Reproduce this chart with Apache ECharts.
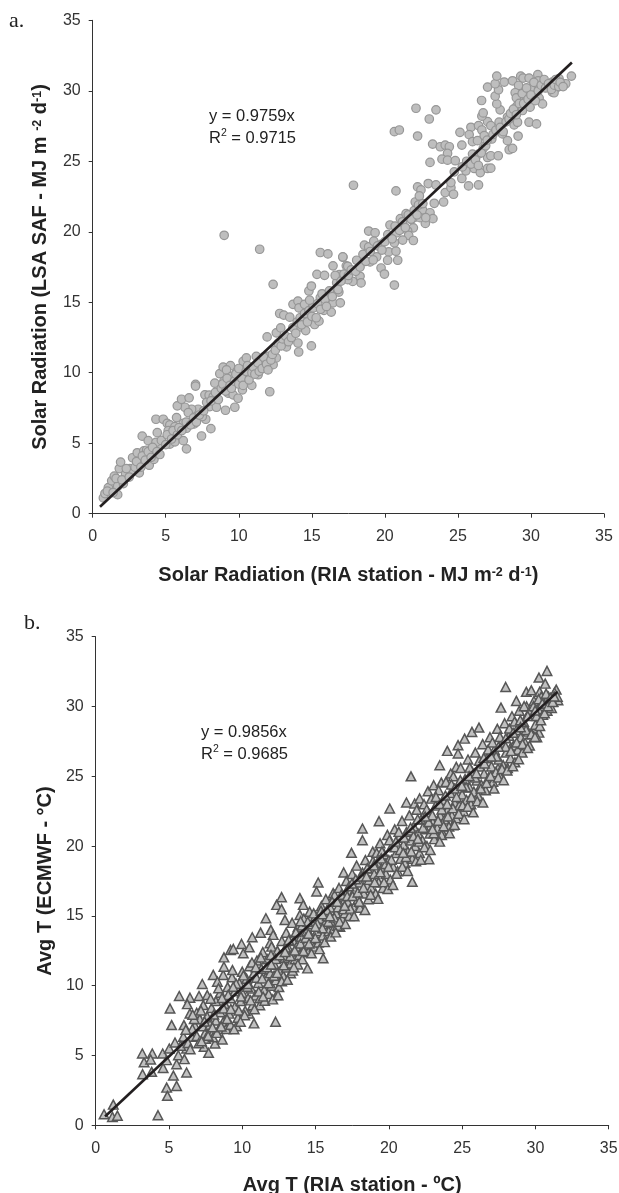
<!DOCTYPE html>
<html><head><meta charset="utf-8">
<style>html,body{margin:0;padding:0;background:#fff}#c{width:619px;height:1193px}</style>
<script src="https://cdn.jsdelivr.net/npm/echarts@6/dist/echarts.min.js"></script>
</head><body><div id="c"></div>
<script>
const tickValues = [0,5,10,15,20,25,30,35];
const solarPoints = [[.73,1.12],[.84,1.43],[1.07,1.85],[1.3,2.33],[1.48,2.66],[1.71,1.35],[1.71,1.95],[2.1,2.14],[1.82,3.2],[1.91,3.66],[2.25,2.8],[2.55,3.2],[2.73,2.97],[3.19,2.9],[2.73,3.97],[3.05,4.32],[3.12,3.56],[3.39,3.68],[3.5,4.46],[3.69,4.5],[3.87,3.44],[3.87,4.15],[4.19,3.85],[4.33,4.27],[4.56,4.75],[3.39,5.5],[3.8,5.18],[4.33,5.06],[4.42,5.75],[4.33,6.7],[4.83,6.7],[5.1,6.41],[5.28,6.3],[5.17,5.89],[5.74,6.82],[5.63,6.18],[5.28,4.94],[5.63,5.1],[6.2,5.18],[6.42,4.6],[6.2,6.41],[6.42,6.06],[6.95,6.37],[7.45,5.51],[8.09,6.03],[7.74,6.7],[7.5,6.89],[7.22,7.41],[6.77,7.41],[6.31,7.55],[5.79,7.65],[6.08,8.12],[6.6,8.22],[6.54,7.17],[7.04,9.17],[7.04,9.05],[7.68,8.43],[7.97,8.41],[8.25,8.31],[8.02,7.6],[8.47,7.55],[9.09,7.34],[9.73,7.55],[8.36,9.26],[8.7,9.93],[8.93,10.4],[9.43,10.5],[9.16,10.2],[9.5,9.74],[9.84,10.02],[8.98,9.38],[9.27,8.55],[9.61,8.43],[9.95,8.19],[10.25,8.79],[10.89,9.1],[10.41,9.62],[10.3,10.8],[10.52,11.05],[11.2,11.16],[11.55,10.8],[11.32,9.86],[12.12,8.65],[12.35,10.57],[12,11.16],[12.57,11.05],[11.94,12.54],[12.57,12.83],[12.87,13.18],[12.8,14.2],[13.08,14.09],[13.49,13.94],[13.26,11.83],[14.05,12.11],[14.1,11.47],[14.97,11.9],[13.71,14.85],[14.05,15.08],[14.12,14.6],[14.5,14.85],[14.85,15.15],[14.8,15.8],[14.97,16.15],[14.24,13.25],[14.58,12.99],[14.85,13.73],[15.19,13.42],[15.49,13.66],[15.58,15.32],[15.83,14.42],[16.33,14.3],[16.45,14.96],[16.95,14.96],[16.85,15.72],[16.7,16.39],[15.35,16.98],[15.87,16.91],[16.45,17.58],[17.36,17.58],[15.58,18.53],[16.1,18.43],[17.13,18.19],[12.35,16.27],[11.43,18.76],[9,19.75],
[17.85,23.3],[20.76,22.9],[22.13,28.76],[23.5,28.65],[23.04,28],[20.65,27.1],[20.99,27.22],[22.24,26.79],[23.27,26.22],[23.79,26.03],[24.13,26.15],[24.41,26.03],[24.29,25.56],[25.27,26.15],[23.09,24.92],[23.91,25.15],[24.29,25.08],[24.82,25.04],[22.24,23.18],[22.47,22.97],[22.97,23.42],[23.5,23.32],[23.38,22.02],[24.02,22.11],[24.13,22.78],[24.52,23.13],[24.52,23.49],[24.7,22.66],[24.75,24.25],[25.27,23.78],[25.55,24.32],[26.12,24.49],[26.53,24.2],[25.73,23.25],[26.41,23.32],[27.03,24.49],[27.25,24.51],[27.03,25.27],[27.25,25.39],[27.76,25.39],[26,25.51],[26.41,25.51],[26.73,25.91],[25.14,27.05],[25.89,27.41],[25.77,26.89],[26,26.39],[26.34,26.46],[26.41,27.53],[26.64,27.22],[26.8,26.82],[27.32,26.58],[27.03,27.81],[27.25,27.53],[26.64,28.2],[26.73,28.43],[26.62,29.31],[27.82,27.77],[28.05,26.94],[28.39,26.46],[28.51,25.82],[28.74,25.91],[29.12,26.79],[29.87,27.77],[30.38,27.65],[28.85,27.58],[29.08,27.77],[28.39,28.12],[27.89,28.65],[27.66,29.07],[27.55,29.62],[27.78,30.07],[27.03,30.26],[27.55,30.5],[27.66,31.04],[28.17,30.62],[28.74,30.71],[29.3,31.04],[29.46,30.9],[29.87,30.9],[30.47,31.14],[30.49,30.71],[29.15,30.38],[28.92,29.86],[29.19,29.48],[29.03,28.91],[29.42,28.6],[29.94,28.84],[30.33,29.79],[30.56,29.48],[30.79,29.07],[30.1,30.26],[30.56,30.26],[31.47,29.9],[31.81,30.26],[32.15,30.5],[32.38,30.5],[31.92,30.86],[32.77,31.04],[31.47,30.62],[31.58,29.86],[31.13,30.38],[29.65,29.67],
[21.06,20.93],[21.45,21.28],[22.08,22.11],[22.36,22.54],[22.58,21.54],[23.09,21.35],[23.29,20.93],[22.77,20.59],[21.95,20.28],[21.56,20.05],[21.63,19.74],[21.95,19.38],[21.22,19.41],[20.35,20.48],[20.81,19.93],[18.89,20.05],[19.33,19.93],[18.6,19.05],[18.89,18.93],[19.24,19.33],[19.74,19.1],[20.26,18.57],[20.76,18.62],[20.65,19.22],[20.88,17.98],[20.19,17.98],[19.44,18.22],[18.99,17.86],[18.07,17.98],[17.12,18.22],[17.46,17.55],[19.74,17.43],[19.97,17],[20.65,16.22],[18.3,16.84],[18.37,16.37],[17.8,16.48],[17.46,16.6],[16.89,16.96],[21.79,20.88],[22,21],[22.4,21],
[1,1.6],[1.4,1.5],[1.6,2.5],[2,2.4],[2.3,3.2],[2.5,2.6],[2.9,3.3],[3,3.7],[3.3,3.3],[3.4,4.1],[3.6,3.8],[3.8,4.4],[4,4],[4.1,4.7],[4.4,4.4],[4.6,4.2],[4.7,5.2],[5,4.9],[5.1,5.6],[5.4,5.3],[5.5,5.9],[5.8,5.6],[5.9,6.1],[6.1,5.9],[6.4,6.5],[6.7,6.3],[6.9,6.8],[7.1,6.5],[7.3,7],[7.6,7.3],[7.8,7.9],[8.1,8],[8.4,8.6],[8.6,8.1],[8.8,8.9],[8.9,9.2],[9.1,8.7],[9.2,9.6],[9.4,9.1],[9.5,8.9],[9.7,9.4],[9.8,9.9],[10,9.2],[10,10.3],[10.2,9.6],[10.3,9.1],[10.5,10.1],[10.6,10.5],[10.7,9.5],[10.9,10],[11,10.4],[11.1,9.9],[11.3,10.7],[11.4,10.1],[11.6,10.3],[11.7,11.1],[11.9,10.6],[12,10.2],[12.2,10.9],[12.3,11.3],[12.5,11.6],[12.7,12.1],[12.9,11.9],[13,12.4],[13.2,12.6],[13.4,12.2],[13.6,12.5],[13.7,13.2],[13.9,12.8],[14,13.6],[14.2,13.9],[14.3,13.4],[14.5,14.2],[14.7,13.6],[14.8,14.4],[15,14],[15.1,14.6],[15.3,13.9],[15.4,14.9],[15.6,14.5],[15.7,15.6],[15.9,15.2],[16,14.7],[16.2,15.8],[16.4,15.4],[16.6,16.9],[16.8,15.9],[17,16.5],[17.2,17],[17.5,16.9],[17.7,17.3],[18,17.2],[18.3,17.5],[18.5,18.4],[18.7,17.9],[19,18.6],[19.2,18],[19.5,19],[19.8,18.7],[20,19.3],[20.2,19.8],[20.5,19.5],[20.7,20.4],[21,20.1],[21.2,20.7],[21.4,20.3],[21.6,21.2],[21.8,20.9],[22,21.5],[22.2,21.2],[22.3,21.9],[22.6,22],[22.8,21],
[25.3,24.6],[25.6,25],[25.9,24.8],[26.2,25.1],[26.4,24.7],[26.6,25.6],[26.9,26.1],[27,26.5],[27.4,26.9],[27.6,27.2],[27.9,27.4],[28.1,27.1],[28.3,27.8],[28.5,28],[28.6,28.4],[28.8,28.7],[29,28.3],[29,29.5],[29.2,29.1],[29.4,29.8],[29.5,29.1],[29.7,30.2],[29.8,29.4],[30,29.7],[30.2,30.6],[30.3,29.3],[30.5,30],[30.7,30.4],[30.9,30.8],[31,30.2],[31.2,30.5],[31.4,30.1],[31.6,30.4],[31.7,30.8],[31.9,30.3],[32,30.6],[32.2,30.3]];
const tempPoints = [[.57,.79],[1.2,1.48],[1.14,.6],[1.48,.69],[4.25,.72],[4.84,2.7],[4.89,2.11],[5.52,2.82],[5.3,3.56],[6.2,3.78],[3.2,3.66],[3.82,3.83],[4.6,4.11],[3.3,4.52],[3.18,5.14],[3.86,5.14],[3.75,4.71],[4.57,5.14],[4.84,4.67],[5.02,5.5],[5.52,4.38],[5.64,5.02],[6.05,4.74],[6.2,5.5],[5.41,5.93],[5.18,7.18],[5.07,8.37],[5.7,9.26],[6.43,9.14],[6.25,8.68],[7.05,9.26],[7.27,10.12],[7.61,9.33],[6.89,8.06],[6.43,8.01],[6.02,7.18],[6.77,7.13],[6.55,6.34],[5.98,6.34],[7.39,5.62],[7.7,5.19],[8.14,5.86],[8.64,6.15],[8.02,6.7],[7.45,6.58],[7.34,8.61],[8.02,10.77],[8.7,10.77],[8.3,10.29],[8.75,11.36],[8.75,12.03],[9.2,12.56],[9.39,12.63],[9.95,12.99],[10.07,12.32],[10.48,12.75],[10.68,13.47],[11.25,13.8],[11.61,14.83],[11.95,14],[12.11,13.64],[11.89,13.04],[12.68,16.34],[12.34,15.79],[12.68,15.48],[12.91,14.71],[13.93,16.27],[13.93,15.07],[14.16,15.79],[15.52,11.96],[14.45,11.24],[13.3,10.89],[12.27,7.42],[10.8,7.3],[12.34,9.33],[9.61,7.1],[10.45,8.01],[11.2,8.6],[15.18,17.39],[15.07,16.75],[16.2,16.63],[16.66,14.23],
[30.79,32.55],[30.24,32.07],[30.67,31.64],[27.97,31.4],[31.42,31.21],[31.54,30.45],[31.2,30.33],[30.24,28.13],[28.81,26.82],[28.31,27.06],[27.45,25.56],[27.04,25.08],[26.31,24.31],[25.06,22.81],[24.38,21.5],[23.63,21.02],[22.74,19.06],[21.6,17.44],[21.51,25],[23.47,25.79],[24.6,25.67],[23.99,26.82],[24.72,27.23],[24.72,26.63],[25.17,27.7],[25.67,28.18],[26.15,28.49],[27.65,29.92],[28.7,30.4],[29.38,31.05],[29.72,31.16],[30.29,31.05],[18.2,21.26],[18.2,20.42],[17.45,19.52],[16.92,18.11],[20.06,22.69],[19.33,21.78],[21.2,23.12],[21.76,23.05],[22.1,23.41],[22.67,23.93],[23.06,24.36],[23.58,24.55],[24.22,25.2],
[5.8,5.7],[6.3,5.9],[6.6,6.9],[6.9,6.4],[7.1,7.6],[7.3,7.1],[7.5,6.2],[7.6,7.8],[7.8,7.2],[7.9,8.4],[8,6.3],[8.2,7.5],[8.2,8.9],[8.4,6.9],[8.5,8.1],[8.5,9.5],[8.7,7.4],[8.8,8.7],[8.9,6.9],[9,9.9],[9.1,8],[9.2,9.1],[9.2,7.2],[9.3,10.6],[9.5,8.5],[9.5,9.6],[9.7,7.7],[9.8,10.2],[9.9,8.9],[10,11],[10,9.5],[10.2,8.2],[10.3,10.5],[10.4,9.1],[10.5,11.4],[10.6,9.8],[10.7,8.6],[10.8,10.9],[10.9,9.3],[11,11.8],[11.1,10.2],[11.2,9.1],[11.3,11.2],[11.4,12.4],[11.5,9.7],[11.6,10.6],[11.7,11.9],[11.8,9.4],[11.9,10.9],[12,12.8],[12,10],[12.2,11.5],[12.3,10.4],[12.4,12.5],[12.5,9.9],[12.6,11.1],[12.7,13.2],[12.8,10.7],[12.9,12],[13,11.3],[13,13.8],[13.2,12.6],[13.3,11.6],[13.4,14.5],[13.5,13.2],[13.6,11.9],[13.7,12.8],[13.8,14.2],[13.9,12.2],[14,13.5],[14.1,11.9],[14.2,14.8],[14.3,12.9],[14.4,13.9],[14.5,12.4],[14.6,15.3],[14.7,13.5],[14.8,14.4],[14.9,12.8],[15,15],[15.1,13.9],[15.2,13.1],[15.3,14.8],[15.4,15.7],[15.5,13.6],[15.6,14.4],[15.7,16.2],[15.8,15],[15.9,13.9],[16,15.6],[16.1,14.5],[16.2,14],[16.3,16.5],[16.4,15.2],[16.5,14.3],[16.6,17],[16.7,15.8],[16.8,14.8],[16.9,16.4],[17,15.2],[17.1,17.5],[17.2,16],[17.3,15],[17.4,16.8],[17.5,18],[17.6,15.6],[17.7,16.9],[17.8,18.6],[17.9,16.2],[18,17.4],[18.1,15.8],[18.2,18.1],[18.3,16.6],[18.4,19],[18.5,17.2],[18.6,16.2],[18.7,18.4],[18.8,17],[18.9,19.6],[19,18],[19.1,16.6],[19.2,18.8],[19.3,17.4],[19.4,20.2],[19.5,18.4],[19.6,17],[19.7,19.4],[19.8,18],[19.9,20.8],[20,19],[20.1,17.6],[20.2,20],[20.3,18.5],[20.4,21.2],[20.5,19.5],[20.6,18.2],[20.7,20.6],[20.8,19.1],[20.9,21.8],[21,20.1],[21.1,18.8],[21.2,21],[21.3,19.6],[21.4,22.2],[21.5,20.4],[21.6,19.1],[21.7,21.4],[21.8,20],[21.9,22.6],[22,20.9],[22.1,19.5],[22.2,21.9],[22.3,20.4],[22.4,23],[22.5,21.2],[22.6,20],[22.7,22.4],[22.8,20.9],[22.9,23.4],[23,21.7],[23.1,20.5],[23.2,22.9],[23.3,21.3],[23.4,24],[23.5,22.2],[23.6,20.8],[23.7,23.3],[23.8,21.9],[23.9,24.6],[24,22.6],[24.1,21.4],[24.2,23.8],[24.3,22.2],[24.4,25],[24.5,23.1],[24.6,22],[24.7,24.3],[24.8,22.9],[24.9,25.6],[25,23.7],[25.1,22.5],[25.2,24.8],[25.3,23.3],[25.4,26.2],[25.5,24.2],[25.6,23],[25.7,25.3],[25.8,23.9],[25.9,26.7],[26,24.7],[26.1,23.6],[26.2,25.7],[26.3,24.4],[26.4,27.3],[26.5,25.2],[26.6,24],[26.7,26.3],[26.8,24.9],[26.9,27.8],[27,25.7],[27.1,24.6],[27.2,26.9],[27.3,25.3],[27.4,28.4],[27.5,26.2],[27.6,25],[27.7,27.4],[27.8,25.8],[27.9,28.8],[28,26.7],[28.1,25.6],[28.2,27.9],[28.3,26.3],[28.4,29.3],[28.5,27.2],[28.6,26],[28.7,28.3],[28.8,26.9],[28.9,29.7],[29,27.8],[29.1,26.7],[29.2,28.9],[29.3,27.4],[29.4,30],[29.5,28.2],[29.6,27.2],[29.7,29.4],[29.8,28],[29.9,30.4],[30,28.7],[30.1,27.8],[30.2,29.8],[30.3,28.6],[30.4,30.7],[30.5,29.4],[30.6,30.2],[30.8,29.7],[30.9,30.7],[31.1,29.9],[31.3,31],[31.5,30.7],
[6.15,6.85],[6.45,5.45],[6.72,7.62],[7.03,5.88],[7.18,8.23],[7.42,7.44],[7.67,6.41],[7.84,9.07],[8.06,7.93],[8.27,6.62],[8.38,9.82],[8.56,7.08],[8.73,8.36],[8.96,7.61],[9.04,9.34],[9.22,8.33],[9.33,11.12],[9.44,6.88],[9.58,10.14],[9.76,8.22],[9.91,9.22],[10.08,10.74],[10.16,7.88],[10.35,9.93],[10.57,8.95],[10.66,11.66],[10.83,8.32],[10.97,10.57],[11.12,9.58],[11.27,12.02],[11.36,10.52],[11.53,8.92],[11.68,11.32],[11.79,10.18],[11.96,12.2],[12.08,9.02],[12.17,10.72],[12.28,11.92],[12.44,9.32],[12.56,12.18],[12.69,10.32],[12.83,11.46],[12.97,12.74],[13.08,10.42],[13.17,13.28],[13.28,12.12],[13.44,11.08],[13.58,12.52],[13.66,13.84],[13.79,11.52],[13.97,13.02],[14.08,14.32],[14.18,12.48],[14.33,13.44],[14.47,14.58],[14.56,13.02],[14.72,12.32],[14.87,15.18],[14.98,13.42],[15.12,14.44],[15.27,12.62],[15.37,15.38],[15.47,14.12],[15.62,13.12],[15.77,15.42],[15.88,14.58],[16.04,13.52],[16.13,16.02],[16.27,14.88],[16.38,13.82],[16.53,15.62],[16.64,14.58],[16.76,16.52],[16.92,15.48],[17.04,14.42],[17.16,16.42],[17.28,17.12],[17.37,15.52],[17.52,16.42],[17.63,14.98],[17.74,17.62],[17.88,16.68],[18.03,15.58],[18.14,17.82],[18.27,17.02],[18.37,15.42],[18.53,18.42],[18.64,17.58],[18.76,16.52],[18.92,18.92],[19.03,17.42],[19.17,19.52],[19.26,16.22],[19.42,18.12],[19.53,19.62],[19.67,17.42],[19.78,18.72],[19.93,16.92],[20.04,20.42],[20.17,19.02],[20.28,17.22],[20.42,19.92],[20.53,18.02],[20.68,21.02],[20.78,19.72],[20.92,18.52],[21.04,20.62],[21.18,19.22],[21.28,18.22],[21.42,21.12],[21.53,19.62],[21.68,20.72],[21.84,18.92],[21.97,21.92],[22.07,20.32],[22.18,19.02],[22.33,21.32],[22.43,19.92],[22.58,22.62],[22.72,21.72],[22.83,19.72],[22.97,22.22],[23.07,20.92],[23.22,23.52],[23.36,21.82],[23.47,20.32],[23.61,22.62],[23.74,21.42],[23.86,23.62],[24.03,22.12],[24.14,20.92],[24.27,24.42],[24.37,22.72],[24.48,21.52],[24.62,23.52],[24.77,22.32],[24.88,24.72],[25.03,22.92],[25.14,21.92],[25.27,24.22],[25.38,22.82],[25.52,25.62],[25.63,23.52],[25.76,22.42],[25.88,24.92],[26.03,23.22],[26.17,26.12],[26.28,24.12],[26.42,23.12],[26.53,25.92],[26.67,24.52],[26.78,26.92],[26.94,25.02],[27.07,27.42],[27.18,24.12],[27.32,26.42],[27.46,24.92],[27.58,27.82],[27.72,25.52],[27.83,24.72],[27.97,27.12],[28.07,25.42],[28.22,28.42],[28.33,26.82],[28.46,25.72],[28.58,28.92],[28.72,27.42],[28.86,26.22],[28.97,29.02],[29.12,27.32],[29.23,30.02],[29.36,28.32],[29.47,27.02],[29.58,29.62],[29.72,28.02],[29.87,30.02],[29.97,27.82],[30.08,29.32],[30.22,30.52],[30.37,29.02],[30.47,30.22],[30.62,29.52],[30.73,30.92],[30.86,30.02],[31.02,30.62],[31.18,30.32],[31.28,30.72],
[6.62,7.92],[7.22,6.02],[7.97,7.02],[8.62,9.12],[9.38,9.92],[9.88,7.42],[10.38,10.12],[10.92,11.32],[11.42,9.22],[11.98,11.52],[12.38,10.92],[12.92,12.42],[13.52,11.32],[13.98,14.62],[14.52,13.72],[14.98,14.22],[15.48,15.12],[15.98,14.98],[16.48,16.02],[16.98,15.72],[17.48,17.32],[17.98,16.02],[18.48,17.82],[18.98,18.62],[19.48,19.12],[19.98,18.52],[20.48,20.32],[20.98,19.52],[21.48,21.32],[21.98,20.52],[22.48,22.12],[22.98,21.22],[23.48,23.02],[23.98,23.02],[24.48,24.12],[24.98,24.32],[25.48,25.02],[25.98,25.22],[26.48,26.32],[26.98,26.42],[27.48,27.12],[27.98,27.72],[28.48,28.12],[28.98,28.52],[29.48,29.32],[29.98,29.72]];
const solarTrend = [[0.5,0.49],[32.8,32.01]];
const tempTrend = [[0.64,0.63],[31.5,31.05]];
const font = 'Liberation Sans, Arial, sans-serif';
const titleSize = 20;

function axis(name, gap, extra){
  return Object.assign({type:'value',min:0,max:35,interval:5,
    name:name,nameLocation:'middle',nameGap:gap,
    nameTextStyle:{fontFamily:font,fontWeight:'bold',fontSize:titleSize,color:'#222',
      rich:{b:{fontFamily:font,fontWeight:'bold',fontSize:titleSize,color:'#222'},
            s:{fontFamily:font,fontWeight:'bold',fontSize:12.5,color:'#222',verticalAlign:'top',padding:[0,0,6,0]}}},
    axisLine:{show:true,onZero:false,lineStyle:{color:'#333',width:1}},
    axisTick:{show:true,length:4,inside:false,lineStyle:{color:'#333',width:1}},
    axisLabel:{fontFamily:font,fontSize:16,color:'#333',margin:12,
      showMinLabel:true,showMaxLabel:true},
    splitLine:{show:false}},extra||{});
}
function noteText(x,y,l1,l2){
  return {type:'text',left:x,top:y,z:20,style:{
    text:'{n|'+l1+'}\n{n|R}{u|2}{n| = '+l2+'}',
    fontFamily:font,
    rich:{n:{fontFamily:font,fontSize:16.5,fill:'#222',color:'#222',lineHeight:22},
          u:{fontFamily:font,fontSize:10.5,fill:'#222',color:'#222',verticalAlign:'top',lineHeight:18}},
    fill:'#222'}};
}
const xLabel = {fontFamily:font,fontSize:16,color:'#333',margin:15};
const chart = echarts.init(document.getElementById('c'),null,{renderer:'canvas'});
chart.setOption({
  animation:false,backgroundColor:'#fff',
  grid:[{left:92.7,top:20.3,width:511.3,height:493.4,containLabel:false,outerBoundsMode:'none'},
        {left:95.7,top:636.7,width:513,height:488.6,containLabel:false,outerBoundsMode:'none'}],
  xAxis:[
    axis('{b|Solar Radiation (RIA station - MJ m}{s|-2}{b| d}{s|-1}{b|)}',52,{gridIndex:0,axisLabel:xLabel}),
    axis('Avg T (RIA station - ºC)',50,{gridIndex:1,axisLabel:xLabel})],
  yAxis:[
    axis('{b|Solar Radiation (LSA SAF - MJ m }{s|-2}{b| d}{s|-1}{b|)}',42,{gridIndex:0}),
    axis('Avg T (ECMWF - °C)',39,{gridIndex:1})],
  series:[
    {type:'scatter',xAxisIndex:0,yAxisIndex:0,data:solarPoints,symbol:'circle',symbolSize:8.5,
     itemStyle:{color:'#bebebe',borderColor:'#969696',borderWidth:1.2,opacity:1},z:2},
    {type:'line',xAxisIndex:0,yAxisIndex:0,data:solarTrend,showSymbol:false,symbol:'none',
     lineStyle:{color:'#231f20',width:2.6},z:3},
    {type:'scatter',xAxisIndex:1,yAxisIndex:1,data:tempPoints,symbol:'triangle',symbolSize:[9.5,9],
     itemStyle:{color:'#c0c0c0',borderColor:'#565656',borderWidth:1.5,opacity:1},z:2},
    {type:'line',xAxisIndex:1,yAxisIndex:1,data:tempTrend,showSymbol:false,symbol:'none',
     lineStyle:{color:'#231f20',width:2.6},z:3}
  ],
  graphic:[
    {type:'text',left:9,top:10,style:{text:'a.',fontFamily:'Liberation Serif, serif',fontSize:22,fill:'#222'}},
    {type:'text',left:24,top:612,style:{text:'b.',fontFamily:'Liberation Serif, serif',fontSize:22,fill:'#222'}},
    noteText(209,108,'y = 0.9759x','0.9715'),
    noteText(201,724,'y = 0.9856x','0.9685')
  ]
});
</script></body></html>
